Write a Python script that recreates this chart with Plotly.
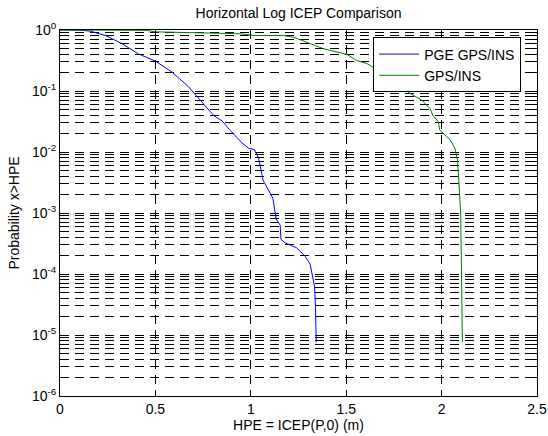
import plotly.graph_objects as go

# ---- data ----
pge_x = [0, 0.10, 0.16, 0.24, 0.326, 0.41, 0.50, 0.587, 0.674, 0.727,
         0.76, 0.805, 0.849, 0.893, 0.954, 0.989, 1.018, 1.041, 1.064, 1.088,
         1.116, 1.133, 1.154, 1.158, 1.18, 1.24, 1.285, 1.311, 1.325, 1.334,
         1.339, 1.343]
pge_p = [1, 1, 0.955, 0.81, 0.594, 0.407, 0.309, 0.204, 0.117, 0.0759,
         0.0589, 0.0398, 0.0324, 0.0224, 0.0141, 0.0115, 0.0110, 0.00794, 0.00347, 0.00257,
         0.00174, 0.000794, 0.000631, 0.000372, 0.000324, 0.000269, 0.000195, 0.000145, 0.0000871, 0.0000631,
         0.0000282, 0.00000759]

gps_x = [0, 0.45, 0.50, 0.65, 0.945, 1.015, 1.17, 1.224, 1.381, 1.504,
         1.556, 1.608, 1.695, 1.757, 1.835, 1.896, 1.94, 1.954, 1.983, 1.99,
         2.045, 2.07, 2.083, 2.088, 2.093, 2.10, 2.104, 2.109]
gps_p = [1, 0.989, 0.933, 0.912, 0.867, 0.813, 0.813, 0.762, 0.493, 0.398,
         0.316, 0.282, 0.193, 0.141, 0.0912, 0.0708, 0.0513, 0.0398, 0.0316, 0.0229,
         0.0158, 0.0115, 0.00741, 0.00447, 0.0024, 0.001, 0.000126, 0.00000759]

series_names = ["PGE GPS/INS", "GPS/INS"]
x_ticks = [0, 0.5, 1, 1.5, 2, 2.5]
x_ticktext = ["0", "0.5", "1", "1.5", "2", "2.5"]
y_ticks = [1e-6, 1e-5, 1e-4, 1e-3, 1e-2, 1e-1, 1]
y_ticktext = ["10<sup>-6</sup>", "10<sup>-5</sup>", "10<sup>-4</sup>", "10<sup>-3</sup>",
              "10<sup>-2</sup>", "10<sup>-1</sup>", "10<sup>0</sup>"]

FONT = "Liberation Sans, Arial, sans-serif"
FS = 14

W, H = 548, 436
L, R, T, B = 59.5, 11, 29.5, 40
PW, PH = W - L - R, H - T - B

minor_vals = [m * 10.0 ** e for e in range(-6, 0) for m in range(2, 10)]

fig = go.Figure()
fig.add_trace(go.Scatter(x=pge_x, y=pge_p, mode="lines", name=series_names[0],
                         line=dict(color="#0000FF", width=1)))
fig.add_trace(go.Scatter(x=gps_x, y=gps_p, mode="lines", name=series_names[1],
                         line=dict(color="#008000", width=1)))

fig.update_layout(
    width=W, height=H,
    margin=dict(l=L, r=R, t=T, b=B, autoexpand=False),
    paper_bgcolor="white", plot_bgcolor="white",
    font=dict(family=FONT, size=FS, color="black"),
    title=dict(text="Horizontal Log ICEP Comparison", x=0.5, xref="paper", xanchor="center",
               y=1 - 13.5 / H, yref="container", yanchor="middle",
               font=dict(family=FONT, size=FS, color="black")),
    showlegend=True,
    legend=dict(x=(373 - L) / PW, y=(H - B - 37) / PH, xanchor="left", yanchor="top",
                bgcolor="white", bordercolor="black", borderwidth=1,
                font=dict(family=FONT, size=FS, color="black"),
                tracegroupgap=0, itemwidth=40),
    xaxis=dict(range=[0, 2.5], tickvals=x_ticks, ticktext=x_ticktext, automargin=False,
               showline=True, linecolor="black", linewidth=1, mirror="ticks",
               ticks="inside", ticklen=5, tickcolor="black", ticklabeloverflow="allow",
               showgrid=True, gridcolor="black", griddash="9px,6px", gridwidth=1,
               zeroline=False,
               title=dict(text="HPE = ICEP(P,0) (m)", standoff=4,
                          font=dict(family=FONT, size=FS, color="black"))),
    yaxis=dict(type="log", range=[-6, 0], tickvals=y_ticks, ticktext=y_ticktext, automargin=False,
               showline=True, linecolor="black", linewidth=1, mirror="ticks",
               ticks="inside", ticklen=5, tickcolor="black",
               showgrid=True, gridcolor="black", griddash="9px,6px", gridwidth=1,
               zeroline=False,
               minor=dict(tickvals=minor_vals, ticks="inside", ticklen=3, tickcolor="black",
                          showgrid=True, gridcolor="black", griddash="9px,6px", gridwidth=1),
               title=dict(text="Probability x>HPE", standoff=9,
                          font=dict(family=FONT, size=FS, color="black"))),
)

# remove the browser's default 8px body margin so the figure sits at the window corner
fig.write_html("out.html", config={"displayModeBar": False},
               post_script="document.body.style.margin='0';")
